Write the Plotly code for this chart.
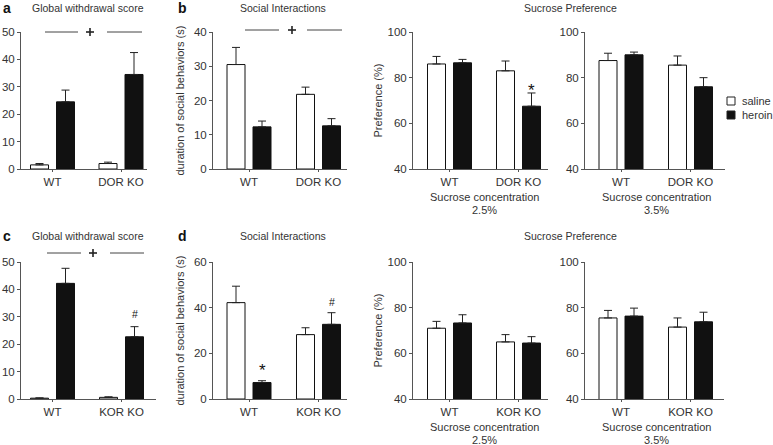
import plotly.graph_objects as go

W, H = 773, 445

# ---------------- data ----------------
groups_dor = ["WT", "DOR KO"]
groups_kor = ["WT", "KOR KO"]

a_saline = [1.5, 2.0]
a_saline_err = [0.5, 0.5]
a_heroin = [24.5, 34.5]
a_heroin_err = [4.3, 8.0]

b_saline = [30.5, 21.8]
b_saline_err = [5.0, 2.1]
b_heroin = [12.3, 12.6]
b_heroin_err = [1.7, 2.1]

s25_dor_saline = [86.0, 83.0]
s25_dor_saline_err = [3.3, 4.3]
s25_dor_heroin = [86.5, 67.5]
s25_dor_heroin_err = [1.5, 5.8]

s35_dor_saline = [87.5, 85.5]
s35_dor_saline_err = [3.2, 4.0]
s35_dor_heroin = [90.0, 76.0]
s35_dor_heroin_err = [1.2, 4.0]

c_saline = [0.3, 0.6]
c_saline_err = [0.1, 0.2]
c_heroin = [42.2, 22.7]
c_heroin_err = [5.5, 3.7]

d_saline = [42.2, 28.2]
d_saline_err = [7.2, 3.0]
d_heroin = [7.2, 32.7]
d_heroin_err = [0.8, 5.1]

s25_kor_saline = [71.0, 65.0]
s25_kor_saline_err = [3.0, 3.2]
s25_kor_heroin = [73.3, 64.5]
s25_kor_heroin_err = [3.6, 2.8]

s35_kor_saline = [75.5, 71.5]
s35_kor_saline_err = [3.3, 4.0]
s35_kor_heroin = [76.3, 73.8]
s35_kor_heroin_err = [3.5, 4.2]

ticks_withdrawal = [0, 10, 20, 30, 40, 50]
ticks_social_dor = [0, 10, 20, 30, 40]
ticks_social_kor = [0, 20, 40, 60]
ticks_pref = [40, 60, 80, 100]

# ---------------- layout helpers (pixel -> paper) ----------------
def px(x):
    return x / W

def py(y):
    return 1 - y / H

FONT = "Liberation Sans, Arial, Helvetica, sans-serif"
TXT = "#333333"
AX = "#555555"

TOP = (32, 169)
BOT = (262, 399)
panels = [
    dict(groups=groups_dor, sal=a_saline, sale=a_saline_err, her=a_heroin, here=a_heroin_err,
         yr=[0, 50], ticks=ticks_withdrawal, xl=21, xr=147, c0=52.5, c1=121, rows=TOP),
    dict(groups=groups_dor, sal=b_saline, sale=b_saline_err, her=b_heroin, here=b_heroin_err,
         yr=[0, 40], ticks=ticks_social_dor, xl=213, xr=347, c0=249, c1=318.5, rows=TOP),
    dict(groups=groups_dor, sal=s25_dor_saline, sale=s25_dor_saline_err, her=s25_dor_heroin,
         here=s25_dor_heroin_err, yr=[40, 100], ticks=ticks_pref, xl=413, xr=548, c0=449.5, c1=518.5, rows=TOP),
    dict(groups=groups_dor, sal=s35_dor_saline, sale=s35_dor_saline_err, her=s35_dor_heroin,
         here=s35_dor_heroin_err, yr=[40, 100], ticks=ticks_pref, xl=585, xr=725, c0=621, c1=690.5, rows=TOP),
    dict(groups=groups_kor, sal=c_saline, sale=c_saline_err, her=c_heroin, here=c_heroin_err,
         yr=[0, 50], ticks=ticks_withdrawal, xl=21, xr=156, c0=52.5, c1=121.5, rows=BOT),
    dict(groups=groups_kor, sal=d_saline, sale=d_saline_err, her=d_heroin, here=d_heroin_err,
         yr=[0, 60], ticks=ticks_social_kor, xl=213, xr=347, c0=249, c1=318.5, rows=BOT),
    dict(groups=groups_kor, sal=s25_kor_saline, sale=s25_kor_saline_err, her=s25_kor_heroin,
         here=s25_kor_heroin_err, yr=[40, 100], ticks=ticks_pref, xl=413, xr=548, c0=449.5, c1=518.5, rows=BOT),
    dict(groups=groups_kor, sal=s35_kor_saline, sale=s35_kor_saline_err, her=s35_kor_heroin,
         here=s35_kor_heroin_err, yr=[40, 100], ticks=ticks_pref, xl=585, xr=724, c0=621, c1=690.5, rows=BOT),
]

fig = go.Figure()
layout = dict(
    width=W, height=H, margin=dict(l=0, r=0, t=0, b=0, pad=0, autoexpand=False),
    paper_bgcolor="white", plot_bgcolor="white", showlegend=False,
    barmode="overlay", font=dict(family=FONT, size=10.5, color=TXT),
)

for i, p in enumerate(panels, start=1):
    xa = "x" if i == 1 else f"x{i}"
    ya = "y" if i == 1 else f"y{i}"
    span = p["c1"] - p["c0"]
    lo = -(p["c0"] - p["xl"]) / span
    hi = 1 + (p["xr"] - p["c1"]) / span
    bw = 18 / span
    for vals, errs, fill, off in ((p["sal"], p["sale"], "white", -22 / span),
                                  (p["her"], p["here"], "#111111", 4 / span)):
        fig.add_trace(go.Bar(
            x=p["groups"], y=vals, width=bw, offset=off,
            marker=dict(color=fill, line=dict(color="#111111", width=1)),
            error_y=dict(type="data", array=errs, arrayminus=[0] * len(errs), symmetric=False,
                         color="#222222", thickness=1, width=4),
            xaxis=xa, yaxis=ya, hoverinfo="skip",
        ))
    key = "" if i == 1 else str(i)
    layout["xaxis" + key] = dict(
        domain=[px(p["xl"]), px(p["xr"])], range=[lo, hi], anchor=ya,
        showline=True, linecolor=AX, linewidth=1, ticks="outside", ticklen=2,
        tickcolor=AX, showgrid=False, zeroline=False, fixedrange=True,
        tickfont=dict(size=11.5, color=TXT), type="category",
    )
    layout["yaxis" + key] = dict(
        domain=[py(p["rows"][1]), py(p["rows"][0])], range=p["yr"], anchor=xa,
        tickvals=p["ticks"], showline=True, linecolor=AX, linewidth=1,
        ticks="outside", ticklen=3, tickcolor=AX, showgrid=False, zeroline=False,
        fixedrange=True, tickfont=dict(size=11.5, color=TXT),
    )

fig.update_layout(**layout)

ann = []
shapes = []

def text(x, y, s, size=10.5, bold=False, angle=0, xanchor="center"):
    ann.append(dict(x=px(x), y=py(y), xref="paper", yref="paper", text=("<b>%s</b>" % s) if bold else s,
                    showarrow=False, font=dict(size=size, color="#111111" if bold else TXT),
                    xanchor=xanchor, yanchor="middle", textangle=angle))

def seg(x0, x1, y0, y1, w=1, color="#444444"):
    shapes.append(dict(type="line", xref="paper", yref="paper", x0=px(x0), x1=px(x1),
                       y0=py(y0), y1=py(y1), line=dict(color=color, width=w)))

# panel letters
for s, x, y in (("a", 7, 8), ("b", 182, 8), ("c", 7, 236), ("d", 182, 236)):
    text(x, y, s, size=14, bold=True)

# titles
for y in (8, 236):
    text(88, y, "Global withdrawal score", size=10.5)
    text(283, y, "Social Interactions", size=10.5)
    text(570, y, "Sucrose Preference", size=10.5)

# axis titles
for yc in (100.5, 330.5):
    text(179, yc, "duration of social behaviors (s)", size=11, angle=-90)
    text(377, yc, "Preference (%)", size=11, angle=-90)

# sucrose concentration labels
for yc1, yc2 in ((197, 210), (427, 440)):
    for xc, conc in ((484, "2.5%"), (656, "3.5%")):
        text(xc, yc1, "Sucrose concentration", size=11)
        text(xc, yc2, conc, size=11)

# significance lines with "+"
for (l0, l1, pc, r0, r1, y) in ((45, 78, 90, 107, 142, 32), (245, 279, 292, 307, 342, 30),
                                (47, 81, 93, 110, 144, 253)):
    seg(l0, l1, y, y)
    seg(r0, r1, y, y)
    seg(pc - 4, pc + 4, y, y, w=1.6, color="#222222")
    seg(pc, pc, y - 4, y + 4, w=1.6, color="#222222")

# legend
for yc, fill, label in ((101, "white", "saline"), (115, "#111111", "heroin")):
    shapes.append(dict(type="rect", xref="paper", yref="paper", x0=px(727), x1=px(735),
                       y0=py(yc + 4), y1=py(yc - 4), fillcolor=fill,
                       line=dict(color="#222222", width=1)))
    text(740, yc, label, size=11, xanchor="left")

# stars / hashes in data coordinates
def mark(i, xpos, yval, s, size):
    key = "" if i == 1 else str(i)
    ann.append(dict(x=xpos, y=yval, xref="x" + key, yref="y" + key, text=s, showarrow=False,
                    font=dict(size=size, color="#111111"), xanchor="center", yanchor="middle"))

span_std = 318.5 - 249
mark(3, 1 + 13 / (518.5 - 449.5), 74.5, "*", 17)
mark(5, 1 + 13 / (121.5 - 52.5), 31.0, "#", 10.5)
mark(6, 0 + 13 / span_std, 12.5, "*", 17)
mark(6, 1 + 13 / span_std, 42.5, "#", 10.5)

fig.update_layout(annotations=ann, shapes=shapes)
post = ("document.documentElement.style.margin='0';document.body.style.margin='0';"
        "document.body.style.overflow='hidden';"
        "var d=document.getElementById('{plot_id}');d.style.position='fixed';"
        "d.style.top='0px';d.style.left='0px';")
fig.write_html("out.html", config={"displayModeBar": False, "staticPlot": True}, post_script=post)
